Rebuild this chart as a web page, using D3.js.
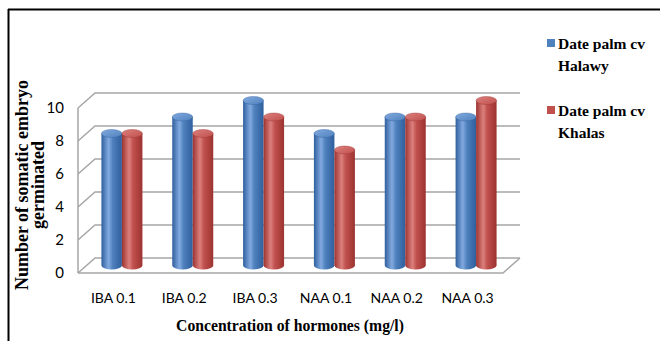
<!DOCTYPE html>
<html><head><meta charset="utf-8">
<script src="https://cdn.jsdelivr.net/npm/d3@7"></script>
<style>body{margin:0;background:#fff}svg{display:block}</style>
</head><body><svg id="c" width="660" height="341"></svg>
<script>
const categories = ["IBA 0.1","IBA 0.2","IBA 0.3","NAA 0.1","NAA 0.2","NAA 0.3"];
const seriesNames = ["Date palm cv Halawy","Date palm cv Khalas"];
const halawy = [8,9,10,8,9,9];
const khalas = [8,8,9,7,9,10];
const yTicks = [0,2,4,6,8,10];
const colors = ["#4f81bd","#c0504d"];
const darks = ["#2f5f9e","#9c3330"];
const lights = ["#82aae0","#dc807d"];

const svg = d3.select("#c");
const defs = svg.append("defs");
// frame
svg.append("line").attr("x1",8).attr("x2",660).attr("y1",9.5).attr("y2",9.5).attr("stroke","#000").attr("stroke-width",2);
svg.append("line").attr("x1",8.5).attr("x2",8.5).attr("y1",9).attr("y2",341).attr("stroke","#000").attr("stroke-width",2);

const DX = 17, DY = 15;
const y = d3.scaleLinear().domain([0,10]).range([258,93]);
const x = d3.scaleBand().domain(categories).range([95,520]);
const x1 = d3.scaleBand().domain(seriesNames).range([x.step()/2-20.5, x.step()/2+20.5]);

const grid = svg.append("g").attr("stroke","#a6a6a6").attr("stroke-width",1.5).attr("fill","none");
yTicks.forEach(t=>{
  const yb = y(t);
  grid.append("path").attr("d",`M${95-DX},${yb+DY}L95,${yb}L520,${yb}`);
});
grid.append("line").attr("x1",95-DX).attr("x2",95-DX).attr("y1",y(10)+DY).attr("y2",y(0)+DY);
grid.append("path").attr("d",`M${95-DX},${y(0)+DY}L${520-DX},${y(0)+DY}L520,${y(0)}`);

svg.append("g").selectAll("text").data(yTicks).join("text")
  .attr("x",64).attr("y",d=>y(d)+DY+1).attr("text-anchor","end").attr("dominant-baseline","middle")
  .attr("font-family","Lato, 'Open Sans', sans-serif").attr("font-size",15).attr("fill","#000").text(d=>d);

colors.forEach((c,i)=>{
  const g = defs.append("linearGradient").attr("id","g"+i).attr("x1","0").attr("x2","1").attr("y1","0").attr("y2","0");
  g.append("stop").attr("offset","0%").attr("stop-color",darks[i]);
  g.append("stop").attr("offset","35%").attr("stop-color",lights[i]);
  g.append("stop").attr("offset","55%").attr("stop-color",c);
  g.append("stop").attr("offset","100%").attr("stop-color",darks[i]);
  const t = defs.append("linearGradient").attr("id","t"+i).attr("x1","0").attr("x2","1").attr("y1","0").attr("y2","1");
  t.append("stop").attr("offset","0%").attr("stop-color",lights[i]);
  t.append("stop").attr("offset","100%").attr("stop-color",c);
});

const data = [];
categories.forEach((c,ci)=>{
  [halawy,khalas].forEach((arr,si)=>data.push({cat:c,s:si,v:arr[ci]}));
});
const w = x1.bandwidth();
const ry = 4;
const bars = svg.append("g").selectAll("g").data(data).join("g");
bars.each(function(d){
  const g = d3.select(this);
  const cx = x(d.cat)+x1(seriesNames[d.s])+w/2 - DX/2;
  const yb = y(0)+DY/2, yt = y(d.v)+DY/2;
  g.append("path").attr("d",`M${cx-w/2},${yt}L${cx-w/2},${yb}A${w/2},${ry} 0 0 0 ${cx+w/2},${yb}L${cx+w/2},${yt}Z`)
    .attr("fill",`url(#g${d.s})`);
  g.append("ellipse").attr("cx",cx).attr("cy",yt).attr("rx",w/2).attr("ry",ry).attr("fill",`url(#t${d.s})`)
    .attr("stroke",darks[d.s]).attr("stroke-width",0.4);
});

svg.append("g").selectAll("text").data(categories).join("text")
  .attr("x",d=>x(d)+x.bandwidth()/2-DX).attr("y",299).attr("text-anchor","middle").attr("dominant-baseline","middle")
  .attr("font-family","Lato, 'Open Sans', sans-serif").attr("font-size",14).attr("fill","#000").text(d=>d);

const serif = "'Liberation Serif','Times New Roman',serif";
svg.append("text").attr("x",290).attr("y",331).attr("text-anchor","middle").attr("font-family",serif)
  .attr("font-weight","bold").attr("font-size",15.7).text("Concentration of hormones (mg/l)");
const yt = svg.append("text").attr("transform","translate(28,185) rotate(-90)").attr("text-anchor","middle")
  .attr("font-family",serif).attr("font-weight","bold").attr("font-size",18);
yt.append("tspan").attr("x",0).attr("dy",0).text("Number of somatic embryo");
yt.append("tspan").attr("x",0).attr("dy",16).text("germinated");

const leg = [["Date palm cv","Halawy"],["Date palm cv","Khalas"]];
leg.forEach((l,i)=>{
  const yy = 49 + i*67;
  svg.append("rect").attr("x",547).attr("y",yy-10).attr("width",8).attr("height",8).attr("fill",colors[i]);
  const t = svg.append("text").attr("font-family",serif).attr("font-weight","bold").attr("font-size",15.5).attr("fill","#000");
  t.append("tspan").attr("x",558).attr("y",yy).text(l[0]);
  t.append("tspan").attr("x",558).attr("y",yy+22).text(l[1]);
});
</script></body></html>
